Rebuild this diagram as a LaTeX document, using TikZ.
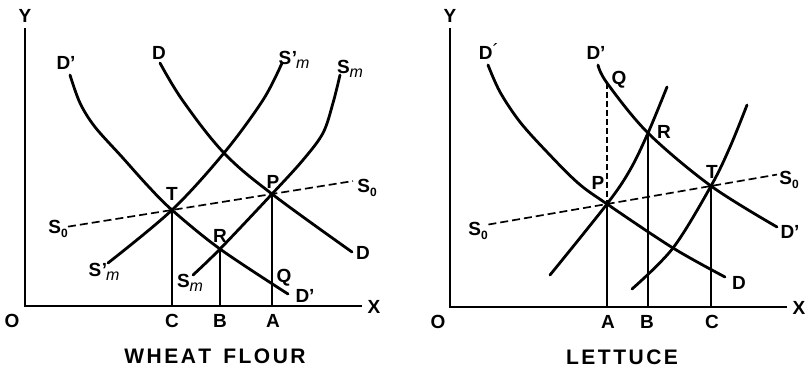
\documentclass[tikz,border=0pt]{standalone}
\usepackage{fontspec}
\setmainfont{Liberation Sans}
\usetikzlibrary{calc}
\newcommand{\zsub}{\raisebox{-4pt}{\fontsize{12}{12}\selectfont 0}}
\newcommand{\msub}{\raisebox{-3.5pt}{\fontsize{16}{16}\selectfont\mdseries\itshape m}}
\newcommand{\Smp}{S\kern0.5pt'\kern-1pt\msub}
\begin{document}
\begin{tikzpicture}[x=1pt,y=-1pt,
  lbl/.style={font=\bfseries\fontsize{19}{19}\selectfont, inner sep=0pt},
  ttl/.style={font=\bfseries\fontsize{21}{21}\selectfont, inner sep=0pt},
  curve/.style={line width=2.8pt, line cap=round},
  axis/.style={line width=2.5pt},
  vline/.style={line width=1.1pt},
  dline/.style={line width=1.7pt, dash pattern=on 8pt off 4pt},
  dvline/.style={line width=1.1pt, dash pattern=on 6pt off 3pt}]
\useasboundingbox (0,0) rectangle (811,369);
% ---------------- left panel: wheat flour ----------------
\coordinate (O1) at (25,306);
\coordinate (Y1) at (25,28);
\coordinate (X1) at (362,306);
\coordinate (T1) at (172,210);
\coordinate (P1) at (272,194);
\coordinate (R1) at (220,249);
\draw[axis] (Y1) -- (O1) -- (X1);
\draw[vline] (T1) -- (T1 |- O1);
\draw[vline] (R1) -- (R1 |- O1);
\draw[vline] (P1) -- (P1 |- O1);
\draw[dline] ($(T1)!-1.04!(P1)$) -- ($(P1)!-0.81!(T1)$);
% D'
\draw[curve] plot[smooth, tension=0.55] coordinates {(70,75) (80,103) (95,127) (122,157) (148,186) (T1) (R1) (288,294)};
% D
\draw[curve] plot[smooth, tension=0.6] coordinates {(160,63) (183,101) (224,153) (P1) (352,252)};
% S'm
\draw[curve] plot[smooth, tension=0.55] coordinates {(108,263) (T1) (224,153) (263,100) (282,63)};
% Sm
\draw[curve] plot[smooth, tension=0.55] coordinates {(193,275) (R1) (P1) (303,160) (323,133) (333,103) (340,75)};
% labels
\node[lbl] (lY1) at (25,16) {Y};
\node[lbl] (lX1) at (374,307) {X};
\node[lbl] (lO1) at (12,321) {O};
\node[lbl] (lDp1) at (66,63) {D'};
\node[lbl] (lD1) at (159,53) {D};
\node[lbl] (lSmp1) at (294,60) {\Smp};
\node[lbl] (lSm1) at (350,69) {S\msub};
\node[lbl] (lP1) at (273,182) {P};
\node[lbl] (lT1) at (172,194) {T};
\node[lbl] (lR1) at (220,236) {R};
\node[lbl] (lQ1) at (284,278) {Q};
\node[lbl] (lDpb1) at (305,296) {D'};
\node[lbl] (lDb1) at (363,253) {D};
\node[lbl] (lS0a) at (58,229) {S\zsub};
\node[lbl] (lS0b) at (367,188) {S\zsub};
\node[lbl] (lSmpb) at (104,272) {\Smp};
\node[lbl] (lSmb) at (190,283) {S\msub};
\node[lbl] (lC1) at (172,321) {C};
\node[lbl] (lB1) at (220,321) {B};
\node[lbl] (lA1) at (273,321) {A};
\node[ttl] (ttl1) at (215,356) {W\kern2.5pt H\kern2.5pt E\kern2.5pt A\kern2.5pt T\kern12pt F\kern2.5pt L\kern2.5pt O\kern2.5pt U\kern2.5pt R};
% ---------------- right panel: lettuce ----------------
\coordinate (O2) at (450,307);
\coordinate (Y2) at (450,28);
\coordinate (X2) at (787,307);
\coordinate (P2) at (607,204);
\coordinate (R2) at (648,133);
\coordinate (T2) at (711,186);
\coordinate (Q2) at (607,83);
\draw[axis] (Y2) -- (O2) -- (X2);
\draw[dvline] (Q2) -- (P2);
\draw[vline] (P2) -- (P2 |- O2);
\draw[vline] (R2) -- (R2 |- O2);
\draw[vline] (T2) -- (T2 |- O2);
\draw[dline] ($(P2)!-1.14!(T2)$) -- ($(T2)!-0.635!(P2)$);
% D
\draw[curve] plot[smooth, tension=0.55] coordinates {(488,65) (500,92) (520,122) (547,152) (578,183) (P2) (673,248) (725,277)};
% D'
\draw[curve] plot[smooth, tension=0.55] coordinates {(598,65) (Q2) (R2) (T2) (777,227)};
% supply left
\draw[curve] plot[smooth, tension=0.55] coordinates {(550,275) (P2) (630,170) (R2) (667,87)};
% supply right
\draw[curve] plot[smooth, tension=0.55] coordinates {(632,289) (673,248) (T2) (730,147) (747,105)};
% labels
\node[lbl] (lY2) at (450,16) {Y};
\node[lbl] (lX2) at (799,308) {X};
\node[lbl] (lO2) at (438,322) {O};
\node[lbl] (lDa2) at (489,52) {D\raisebox{2pt}{\mdseries ´}};
\node[lbl] (lDp2) at (596,53) {D'};
\node[lbl] (lQ2) at (619,80) {Q};
\node[lbl] (lR2) at (664,132) {R};
\node[lbl] (lT2) at (712,172) {T};
\node[lbl] (lP2) at (598,183) {P};
\node[lbl] (lS0c) at (789,180) {S\zsub};
\node[lbl] (lS0d) at (478,231) {S\zsub};
\node[lbl] (lDpb2) at (790,232) {D'};
\node[lbl] (lDb2) at (739,283) {D};
\node[lbl] (lA2) at (608,322) {A};
\node[lbl] (lB2) at (647,322) {B};
\node[lbl] (lC2) at (712,322) {C};
\node[ttl] (ttl2) at (622,357) {L\kern2.5pt E\kern2.5pt T\kern2.5pt T\kern2.5pt U\kern2.5pt C\kern2.5pt E};
\end{tikzpicture}
\end{document}
